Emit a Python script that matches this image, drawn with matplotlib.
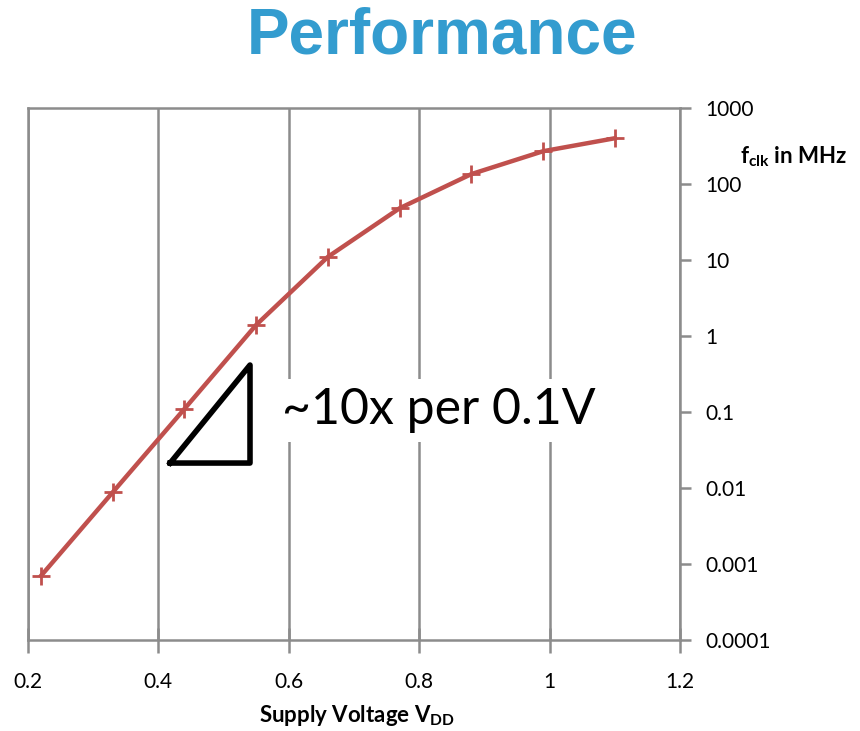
import matplotlib.pyplot as plt
import numpy as np

# --------------------------------------------------------------------------------

vdd = [0.22, 0.33, 0.44, 0.55, 0.66, 0.77, 0.88, 0.99, 1.10]
fclk = [0.0007, 0.0088, 0.11, 1.4, 11, 48, 135, 270, 400]

x_ticks = [0.2, 0.4, 0.6, 0.8, 1.0, 1.2]
x_labels = ['0.2', '0.4', '0.6', '0.8', '1', '1.2']
y_ticks = [0.0001, 0.001, 0.01, 0.1, 1, 10, 100, 1000]
y_labels = ['0.0001', '0.001', '0.01', '0.1', '1', '10', '100', '1000']

# slope triangle corners (voltage, MHz)
tri_x = [0.418, 0.5405, 0.5405, 0.418]
tri_y = [0.0213, 0.0213, 0.415, 0.0213]

# --------------------------------------------------------------------------------

plt.rcParams['font.family'] = ['Lato', 'DejaVu Sans']
plt.rcParams['mathtext.fontset'] = 'custom'
plt.rcParams['mathtext.rm'] = 'Lato'
plt.rcParams['mathtext.bf'] = 'Lato:bold'

fig = plt.figure(figsize=(8.6, 7.31), dpi=100)
ax = fig.add_axes([28 / 860, 1 - 640 / 731, 652 / 860, 532 / 731])

grid_c = '#8c8c8c'
ax.set_xlim(0.2, 1.2)
ax.set_yscale('log')
ax.set_ylim(0.0001, 1000)

for xv in x_ticks:
    ax.axvline(xv, color=grid_c, lw=1.8, zorder=1)

for s in ax.spines.values():
    s.set_color(grid_c)
    s.set_linewidth(1.8)

ax.plot(vdd, fclk, color='#c0504d', lw=3.2, marker='+', ms=13, mew=2, zorder=3)

ax.set_xticks(x_ticks)
ax.set_xticklabels(x_labels, fontsize=15)
ax.set_yticks(y_ticks)
ax.set_yticklabels(y_labels, fontsize=15)
ax.yaxis.set_minor_locator(plt.NullLocator())
ax.yaxis.tick_right()
ax.tick_params(axis='y', direction='out', length=8, width=1.8, color=grid_c, pad=10)
ax.tick_params(axis='x', direction='inout', length=18, width=1.8, color=grid_c, pad=14)

fig.text(357 / 860, 1 - 716 / 731, r'Supply Voltage $\mathbf{V_{DD}}$', fontsize=16,
         fontweight='bold', ha='center', va='center')

fig.text(740 / 860, 1 - 157 / 731, r'$\mathbf{f_{clk}}$ in MHz', fontsize=16,
         fontweight='bold', ha='left', va='center')

ax.plot(tri_x, tri_y, color='black', lw=4, solid_joinstyle='round', zorder=4)
ax.text(0.59, 0.105, '~10x per 0.1V', fontsize=36, ha='left', va='center', zorder=5,
        bbox=dict(facecolor='white', edgecolor='none', pad=6))

fig.text(442 / 860, 1 - 36 / 731, 'Performance', fontsize=46, fontweight='bold',
         color='#339ccf', ha='center', va='center', family=['Liberation Sans'])

fig.savefig('out.png', dpi=100)
